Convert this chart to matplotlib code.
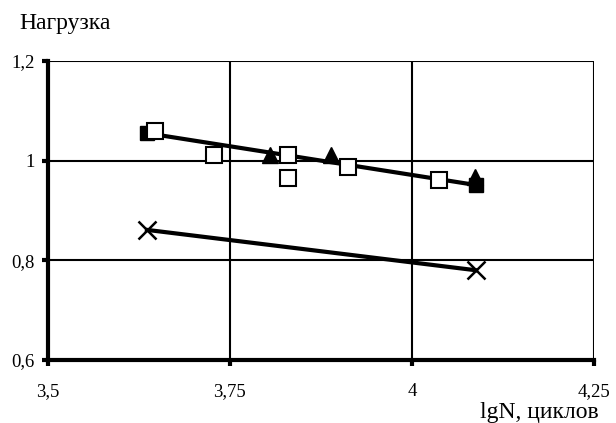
import matplotlib
matplotlib.use('Agg')
from matplotlib import pyplot as plt

# данные
sq_open_x = [3.647, 3.728, 3.830, 3.830, 3.912, 4.037]
sq_open_y = [1.059, 1.011, 1.011, 0.965, 0.987, 0.961]
sq_fill_x = [3.636, 4.088]
sq_fill_y = [1.055, 0.951]
tri_x = [3.805, 3.889, 4.087]
tri_y = [1.011, 1.011, 0.967]
cross_x = [3.636, 4.088]
cross_y = [0.861, 0.780]

trend1_x = [3.636, 4.088]
trend1_y = [1.055, 0.951]
trend2_x = [3.636, 4.088]
trend2_y = [0.861, 0.780]

xticks = [3.5, 3.75, 4.0, 4.25]
xlabels = ['3,5', '3,75', '4', '4,25']
yticks = [0.6, 0.8, 1.0, 1.2]
ylabels = ['0,6', '0,8', '1', '1,2']

plt.rcParams['font.family'] = ['Liberation Serif', 'DejaVu Serif']

fig = plt.figure(figsize=(6.16, 4.23), dpi=100)
ax = fig.add_axes([0.0779, 0.149, 0.886, 0.707])

ax.plot(trend1_x, trend1_y, color='black', linewidth=3, zorder=3)
ax.plot(trend2_x, trend2_y, color='black', linewidth=3, zorder=3)
ax.plot(sq_fill_x, sq_fill_y, 's', color='black', markersize=10.5, zorder=4)
ax.plot(sq_open_x, sq_open_y, 's', markerfacecolor='white', markeredgecolor='black',
        markeredgewidth=1.5, markersize=11, zorder=5)
ax.plot(tri_x, tri_y, '^', color='black', markersize=12, zorder=6)
ax.plot(cross_x, cross_y, 'x', color='black', markersize=12.5, markeredgewidth=1.8, zorder=4)

ax.set_xlim(3.5, 4.25)
ax.set_ylim(0.6, 1.2)
ax.set_xticks(xticks)
ax.set_xticklabels(xlabels)
ax.set_yticks(yticks)
ax.set_yticklabels(ylabels)
ax.grid(True, color='black', linewidth=1.5)

for s in ['top', 'right']:
    ax.spines[s].set_visible(False)
for s in ['left', 'bottom']:
    ax.spines[s].set_linewidth(3)
    ax.spines[s].set_zorder(7)

ax.tick_params(axis='both', length=4.5, width=3, labelsize=13.5, colors='black')
ax.tick_params(axis='x', pad=12)
ax.tick_params(axis='y', pad=5)

fig.text(0.032, 0.931, 'Нагрузка', fontsize=17, ha='left', va='baseline')
fig.text(0.972, 0.012, 'lgN, циклов', fontsize=17, ha='right', va='baseline')

fig.savefig('out.png', dpi=100)
